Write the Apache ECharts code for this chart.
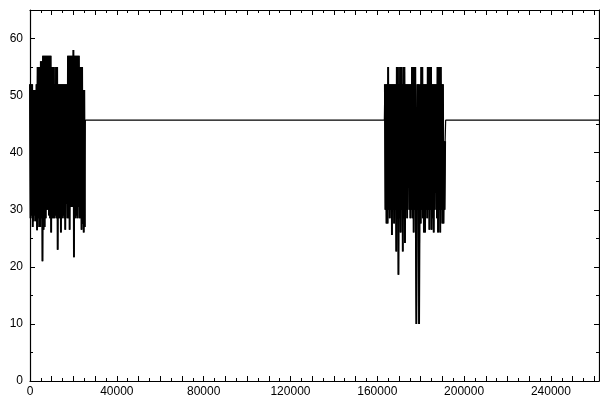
<!DOCTYPE html>
<html>
<head>
<meta charset="utf-8">
<script src="https://cdn.jsdelivr.net/npm/echarts@6/dist/echarts.min.js"></script>
<style>
html,body{margin:0;padding:0;background:#fff;}
#chart{width:600px;height:405px;}
</style>
</head>
<body>
<div id="chart"></div>
<script>
// ---- data ----
const xMax = 262144;
const baseline = 45.7;

// first burst: samples every 250 starting at 0
const burst1Start = 0;
const burst1Step = 250;
const burst1Y = [
  52, 28.5, 52, 29, 52, 27, 51, 28, 51, 29,
  51, 28, 52, 26.4, 55, 28.5, 55, 27, 55, 27,
  56, 28.5, 56, 21, 57, 26.5, 57, 27, 57, 28.5,
  57, 30, 57, 30, 57, 29, 57, 28.5, 57, 26,
  55, 28.5, 55, 28.5, 55, 28.5, 52, 29, 55, 28.5,
  55, 23, 52, 28.5, 52, 28.5, 52, 26, 52, 28.5,
  52, 29, 52, 28.5, 52, 26.5, 52, 31, 52, 28.5,
  57, 28.5, 57, 26.5, 57, 30.5, 57, 30.5, 57, 30.5,
  58, 21.7, 57, 28.5, 57, 29, 57, 28.5, 57, 30.5,
  57, 28.5, 55, 28.5, 55, 26.5, 55, 27.5, 51, 26,
  51, 27
];

// second burst: samples every 250 starting at 163500
const burst2Start = 163500;
const burst2Step = 250;
const burst2Y = [
  52, 30, 52, 27.6, 52, 27.6, 55, 30, 52, 28.5,
  52, 30, 52, 25.6, 52, 30, 52, 27.6, 52, 30,
  52, 22.7, 55, 30, 55, 18.6, 52, 28.5, 55, 26,
  55, 30, 52, 22.7, 55, 28.5, 55, 24.2, 52, 30,
  52, 28.5, 52, 33.8, 52, 30, 52, 28.5, 52, 30,
  55, 28.5, 55, 26, 55, 30, 55, 28.5, 10, 10,
  52, 30, 52, 10, 10, 52, 27.6, 55, 30, 55,
  28.5, 52, 26, 52, 26, 52, 30, 52, 28.5, 55,
  30, 55, 26.5, 55, 30, 55, 26.5, 52, 28.5, 52,
  26, 52, 30, 52, 33, 52, 28.5, 55, 26, 55,
  30, 55, 26, 55, 30, 52, 27.6, 52, 27.6, 42,
  30, 42
];

const xLabelEvery = 40000;

// ---- build series data ----
const burst1Data = burst1Y.map((y, i) => [burst1Start + i * burst1Step, y]);
const burst2Data = burst2Y.map((y, i) => [burst2Start + i * burst2Step, y]);
const b1End = burst1Start + burst1Y.length * burst1Step;
const b2End = burst2Start + burst2Y.length * burst2Step;
const seriesData = [].concat(
  burst1Data,
  [[b1End, baseline], [burst2Start - burst2Step, baseline]],
  burst2Data,
  [[b2End, baseline], [xMax, baseline]]
);

const font = "'Liberation Sans', Arial, sans-serif";
const black = '#000';

function xAxisDef(pos, showLabel) {
  return {
    type: 'value', position: pos, min: 0, max: xMax, interval: 10000,
    axisLine: { show: true, onZero: false, lineStyle: { color: black, width: 1.2 } },
    axisTick: { show: true, inside: true, length: 5, lineStyle: { color: black, width: 1 } },
    minorTick: { show: true, splitNumber: 2, length: 3, lineStyle: { color: black, width: 1 } },
    splitLine: { show: false },
    axisLabel: {
      show: showLabel, showMaxLabel: false, color: black, fontSize: 12, fontFamily: font, margin: 5,
      formatter: v => (v % xLabelEvery === 0 ? String(v) : '')
    }
  };
}
function yAxisDef(pos, showLabel) {
  return {
    type: 'value', position: pos, min: 0, max: 65, interval: 10,
    axisLine: { show: true, onZero: false, lineStyle: { color: black, width: 1.2 } },
    axisTick: { show: true, inside: true, length: 5, lineStyle: { color: black, width: 1 } },
    minorTick: { show: true, splitNumber: 2, length: 3, lineStyle: { color: black, width: 1 } },
    splitLine: { show: false },
    axisLabel: { show: showLabel, showMaxLabel: false, color: black, fontSize: 12, fontFamily: font, margin: 7 }
  };
}

const chart = echarts.init(document.getElementById('chart'), null, { renderer: 'canvas' });
chart.setOption({
  animation: false,
  backgroundColor: '#fff',
  grid: { left: 30, right: 1, top: 10, bottom: 24, containLabel: false },
  xAxis: [xAxisDef('bottom', true), xAxisDef('top', false)],
  yAxis: [yAxisDef('left', true), yAxisDef('right', false)],
  series: [{
    type: 'line', xAxisIndex: 0, yAxisIndex: 0,
    data: seriesData, showSymbol: false, symbol: 'none',
    sampling: null, clip: true,
    lineStyle: { color: black, width: 1.2 }
  }, {
    type: 'line', xAxisIndex: 0, yAxisIndex: 0,
    data: burst1Data, showSymbol: false, symbol: 'none',
    sampling: null, clip: true,
    lineStyle: { color: black, width: 1.9 }
  }, {
    type: 'line', xAxisIndex: 0, yAxisIndex: 0,
    data: burst2Data, showSymbol: false, symbol: 'none',
    sampling: null, clip: true,
    lineStyle: { color: black, width: 1.9 }
  }]
});
</script>
</body>
</html>
